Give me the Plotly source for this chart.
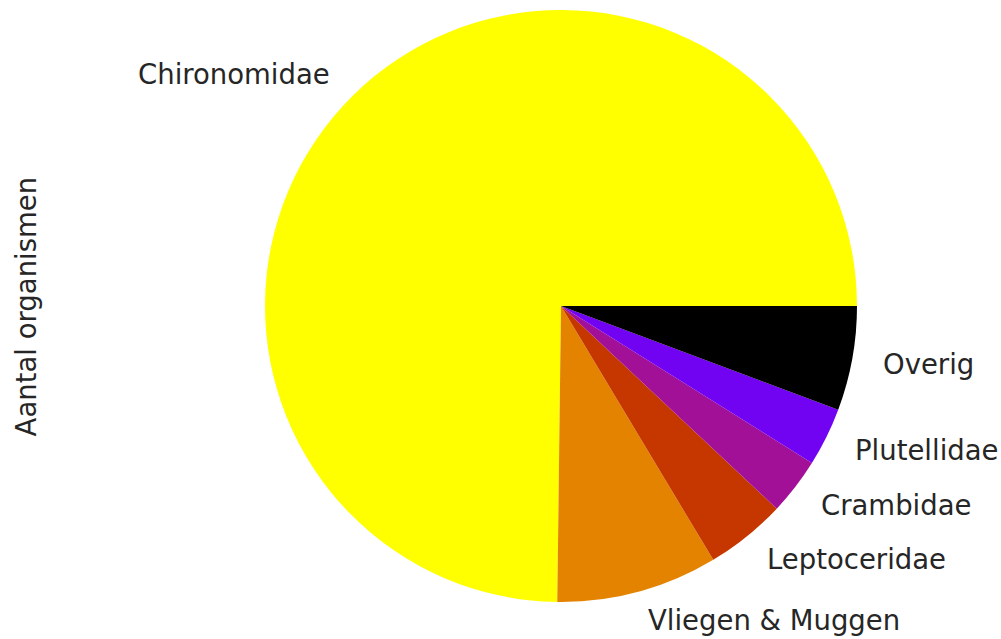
import math
import plotly.graph_objects as go

labels = ["Chironomidae", "Vliegen & Muggen", "Leptoceridae", "Crambidae", "Plutellidae", "Overig"]
values = [748, 88, 44, 31, 32, 57]
colors = ["#ffff00", "#e48300", "#c63700", "#a11096", "#7202f2", "#000000"]
ylabel = "Aantal organismen"

FONT = "DejaVu Sans"
FS = 27.5

total = sum(values)
# first slice starts at 3 o'clock and runs counterclockwise (matplotlib default)
rotation = 90 - 360 * values[0] / total

fig = go.Figure(go.Pie(
    labels=labels, values=values, sort=False, direction="counterclockwise",
    rotation=rotation, textinfo="none", hoverinfo="label+value",
    marker=dict(colors=colors, line=dict(width=0)),
))

# labels at 1.1 radius, matplotlib style
annotations = []
cum = 0.0
for lab, v in zip(labels, values):
    mid = (cum + v / 2) / total * 2 * math.pi
    cum += v
    cx, cy = math.cos(mid), math.sin(mid)
    annotations.append(dict(
        x=0.5 + 0.55 * cx, y=0.5 + 0.55 * cy, xref="paper", yref="paper",
        text=lab, showarrow=False, xanchor="left" if cx > 0 else "right",
        yanchor="middle", font=dict(family=FONT, size=FS, color="#262626"),
    ))
annotations.append(dict(
    x=-0.403, y=0.5, xref="paper", yref="paper", text=ylabel, showarrow=False,
    textangle=-90, xanchor="center", yanchor="middle",
    font=dict(family=FONT, size=FS, color="#262626"),
))

fig.update_layout(
    width=1001, height=639, showlegend=False,
    margin=dict(l=265, r=144, t=10, b=37),
    paper_bgcolor="white", plot_bgcolor="white",
    annotations=annotations,
)
fig.write_html("out.html", config={"displayModeBar": False},
               post_script="document.body.style.margin='0';document.body.style.overflow='hidden';")
